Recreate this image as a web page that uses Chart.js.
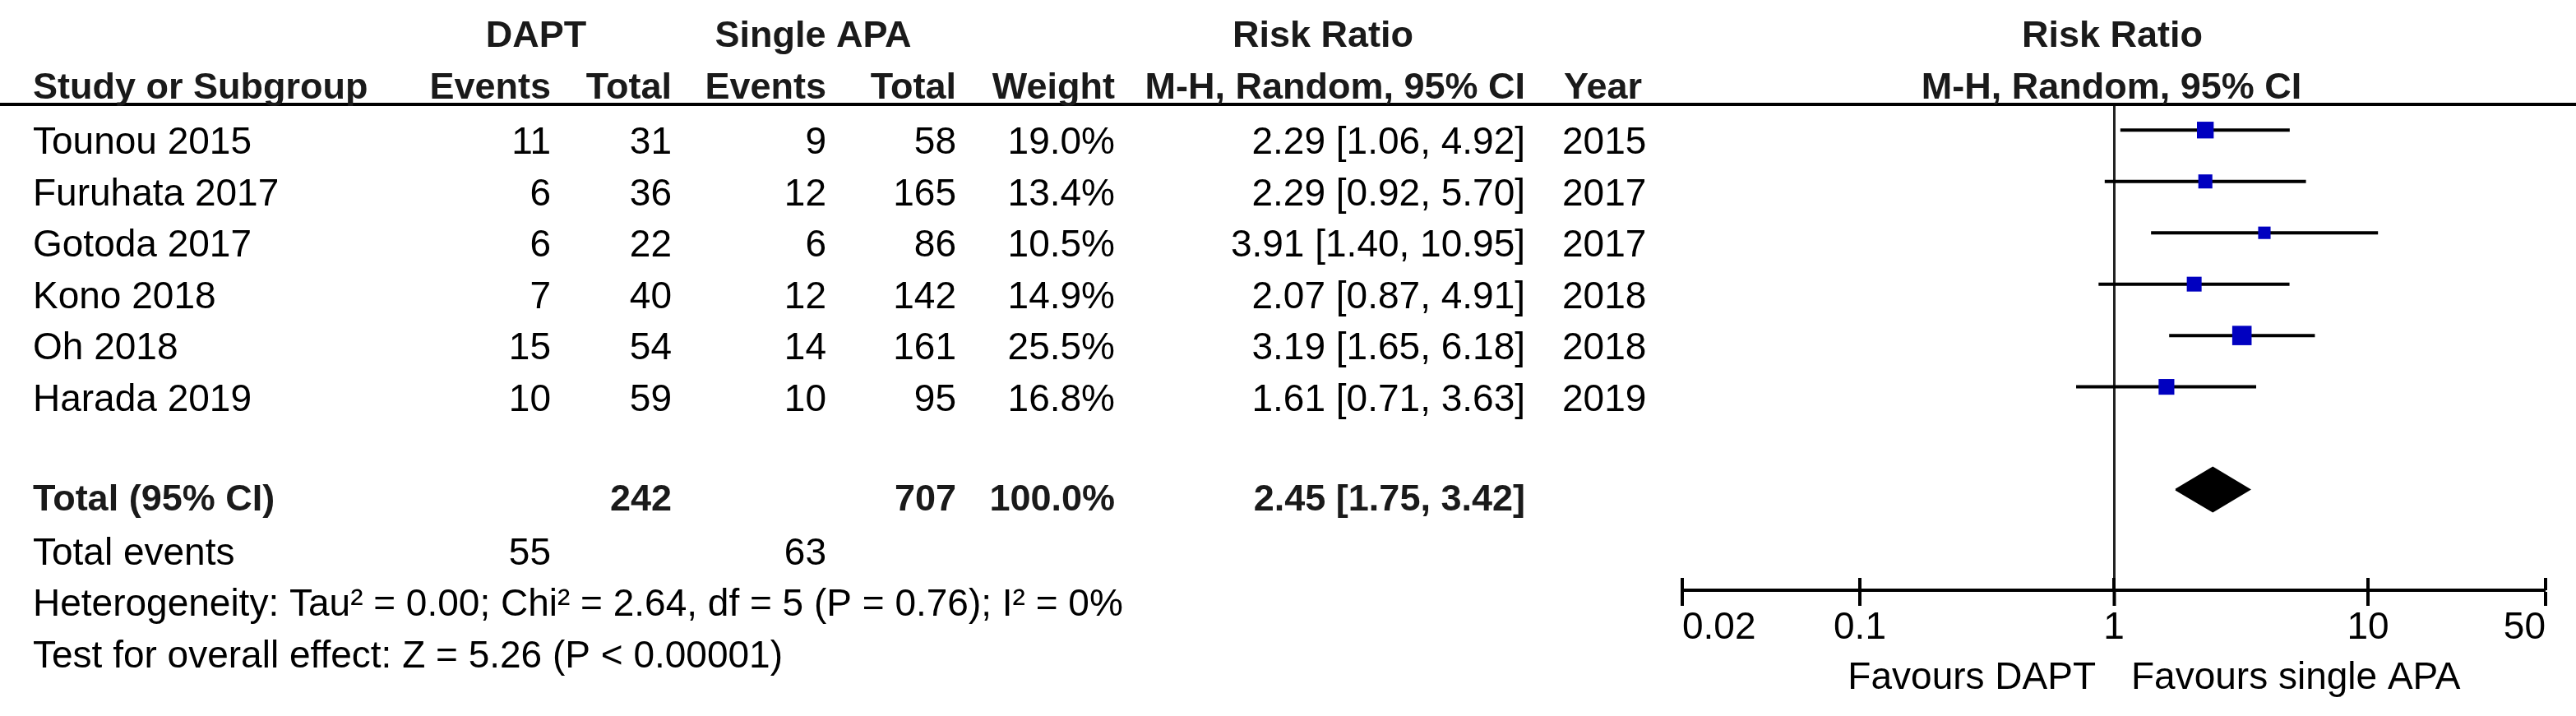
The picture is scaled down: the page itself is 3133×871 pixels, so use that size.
<!DOCTYPE html>
<html>
<head>
<meta charset="utf-8">
<script src="https://cdn.jsdelivr.net/npm/chart.js@4/dist/chart.umd.min.js"></script>
<style>
  html, body { margin: 0; padding: 0; background: #fff; }
  canvas { display: block; }
</style>
</head>
<body>
<canvas id="forest" width="3133" height="871"></canvas>
<script>
//! Data

const studies = ["Tounou 2015", "Furuhata 2017", "Gotoda 2017", "Kono 2018", "Oh 2018", "Harada 2019"];
const daptEvents = [11, 6, 6, 7, 15, 10];
const daptTotal = [31, 36, 22, 40, 54, 59];
const apaEvents = [9, 12, 6, 12, 14, 10];
const apaTotal = [58, 165, 86, 142, 161, 95];
const weights = [19.0, 13.4, 10.5, 14.9, 25.5, 16.8];
const rr = [2.29, 2.29, 3.91, 2.07, 3.19, 1.61];
const rrLow = [1.06, 0.92, 1.40, 0.87, 1.65, 0.71];
const rrHigh = [4.92, 5.70, 10.95, 4.91, 6.18, 3.63];
const years = [2015, 2017, 2017, 2018, 2018, 2019];

const pooled = [2.45, 1.75, 3.42]; // estimate, lower, upper
const totals = [242, 707]; // DAPT total, single APA total
const totalEvents = [55, 63];
const heterogeneity = "Heterogeneity: Tau² = 0.00; Chi² = 2.64, df = 5 (P = 0.76); I² = 0%";
const overallEffect = "Test for overall effect: Z = 5.26 (P < 0.00001)";

const xTicks = [0.02, 0.1, 1, 10, 50];

//! Style

const FAMILY = '"Liberation Sans", Arial, sans-serif';
const REG = `46px ${FAMILY}`;
const BOLD = `bold 45px ${FAMILY}`;
const BLUE = "#0000c0";
const TOTAL_ROW = 7;
const DIAMOND_HALF = 0.43;

// right edges of the table columns
const col = { label: 40, dEv: 670, dTot: 817, aEv: 1005, aTot: 1163, weight: 1356, ci: 1855, year: 1900 };

const fmt = (v) => v.toFixed(2);

//! Table text plugin

const tablePlugin = {
  id: "table",
  afterDraw(chart) {
    const { ctx, scales: { x, y } } = chart;
    const base = (i) => y.getPixelForValue(i) + 29;
    const put = (t, px, py, align) => {
      ctx.textAlign = align;
      ctx.fillText(t, px, py);
    };

    ctx.save();
    ctx.textBaseline = "alphabetic";

    // header rule
    ctx.fillStyle = "#000";
    ctx.fillRect(0, 125, chart.width, 4);

    // upper half of the axis ticks
    x.ticks.forEach((t) => {
      const px = x.getPixelForValue(t.value);
      ctx.fillRect(px - 2, chart.chartArea.bottom - 15, 4, 15);
    });

    // headers
    ctx.fillStyle = "#1a1a1a";
    ctx.font = BOLD;
    put("DAPT", 652, 57, "center");
    put("Single APA", 989, 57, "center");
    put("Risk Ratio", 1609, 57, "center");
    put("Risk Ratio", 2569, 57, "center");
    put("Study or Subgroup", col.label, 120, "left");
    put("Events", col.dEv, 120, "right");
    put("Total", col.dTot, 120, "right");
    put("Events", col.aEv, 120, "right");
    put("Total", col.aTot, 120, "right");
    put("Weight", col.weight, 120, "right");
    put("M-H, Random, 95% CI", col.ci, 120, "right");
    put("Year", col.year + 2, 120, "left");
    put("M-H, Random, 95% CI", 2568, 120, "center");

    // study rows
    ctx.fillStyle = "#000";
    ctx.font = REG;
    studies.forEach((s, i) => {
      const b = base(i);
      put(s, col.label, b, "left");
      put(String(daptEvents[i]), col.dEv, b, "right");
      put(String(daptTotal[i]), col.dTot, b, "right");
      put(String(apaEvents[i]), col.aEv, b, "right");
      put(String(apaTotal[i]), col.aTot, b, "right");
      put(weights[i].toFixed(1) + "%", col.weight, b, "right");
      put(`${fmt(rr[i])} [${fmt(rrLow[i])}, ${fmt(rrHigh[i])}]`, col.ci, b, "right");
      put(String(years[i]), col.year, b, "left");
    });

    // total row
    ctx.fillStyle = "#1a1a1a";
    ctx.font = BOLD;
    const tb = base(TOTAL_ROW) - 4;
    put("Total (95% CI)", col.label, tb, "left");
    put(String(totals[0]), col.dTot, tb, "right");
    put(String(totals[1]), col.aTot, tb, "right");
    put("100.0%", col.weight, tb, "right");
    put(`${fmt(pooled[0])} [${fmt(pooled[1])}, ${fmt(pooled[2])}]`, col.ci, tb, "right");

    ctx.fillStyle = "#000";
    ctx.font = REG;
    put("Total events", col.label, base(8), "left");
    put(String(totalEvents[0]), col.dEv, base(8), "right");
    put(String(totalEvents[1]), col.aEv, base(8), "right");
    put(heterogeneity, col.label, base(9), "left");
    put(overallEffect, col.label, base(10), "left");

    // favours labels either side of the line of no effect
    const one = x.getPixelForValue(1);
    put("Favours DAPT", one - 22, 838, "right");
    put("Favours single APA", one + 21, 838, "left");

    ctx.restore();
  },
};

//! Chart JS

const ciLines = studies.map((s, i) => ({
  label: s,
  data: [
    { x: rrLow[i], y: i },
    { x: rrHigh[i], y: i },
  ],
  showLine: true,
  borderColor: "#000",
  borderWidth: 4,
  pointRadius: 0,
  order: 2,
}));

new Chart(document.getElementById("forest"), {
  type: "scatter",
  data: {
    datasets: [
      {
        label: "Studies",
        data: rr.map((v, i) => ({ x: v, y: i })),
        pointStyle: "rect",
        pointRadius: weights.map((w) => Math.sqrt(w) * 3.3),
        backgroundColor: BLUE,
        borderWidth: 0,
        order: 0,
      },
      {
        label: "Total",
        data: [
          { x: pooled[1], y: TOTAL_ROW },
          { x: pooled[0], y: TOTAL_ROW - DIAMOND_HALF },
          { x: pooled[2], y: TOTAL_ROW },
          { x: pooled[0], y: TOTAL_ROW + DIAMOND_HALF },
          { x: pooled[1], y: TOTAL_ROW },
        ],
        showLine: true,
        fill: "shape",
        tension: 0,
        backgroundColor: "#000",
        borderColor: "#000",
        borderWidth: 2,
        pointRadius: 0,
        order: 1,
      },
      ...ciLines,
    ],
  },
  options: {
    responsive: false,
    devicePixelRatio: 1,
    animation: false,
    events: [],
    layout: {
      padding: { left: 2046, right: 37, top: 127, bottom: 0 },
    },
    plugins: {
      legend: { display: false },
      tooltip: { enabled: false },
    },
    scales: {
      x: {
        type: "logarithmic",
        min: xTicks[0],
        max: xTicks[xTicks.length - 1],
        afterBuildTicks: (s) => {
          s.ticks = xTicks.map((v) => ({ value: v }));
        },
        afterFit: (s) => {
          s.height = 153;
        },
        grid: {
          drawOnChartArea: true,
          color: (c) => (c.tick && c.tick.value === 1 ? "#222" : "rgba(0,0,0,0)"),
          lineWidth: (c) => (c.tick && c.tick.value === 1 ? 3 : 0),
          tickColor: "#000",
          tickWidth: 4,
          tickLength: 19,
        },
        border: { display: true, color: "#000", width: 4 },
        ticks: {
          align: "inner",
          padding: 0,
          autoSkip: false,
          maxRotation: 0,
          color: "#000",
          font: { family: FAMILY, size: 46 },
          callback: (v) => String(v),
        },
      },
      y: {
        type: "linear",
        display: false,
        min: -0.5,
        max: 8.96,
        reverse: true,
      },
    },
  },
  plugins: [tablePlugin],
});
</script>
</body>
</html>
